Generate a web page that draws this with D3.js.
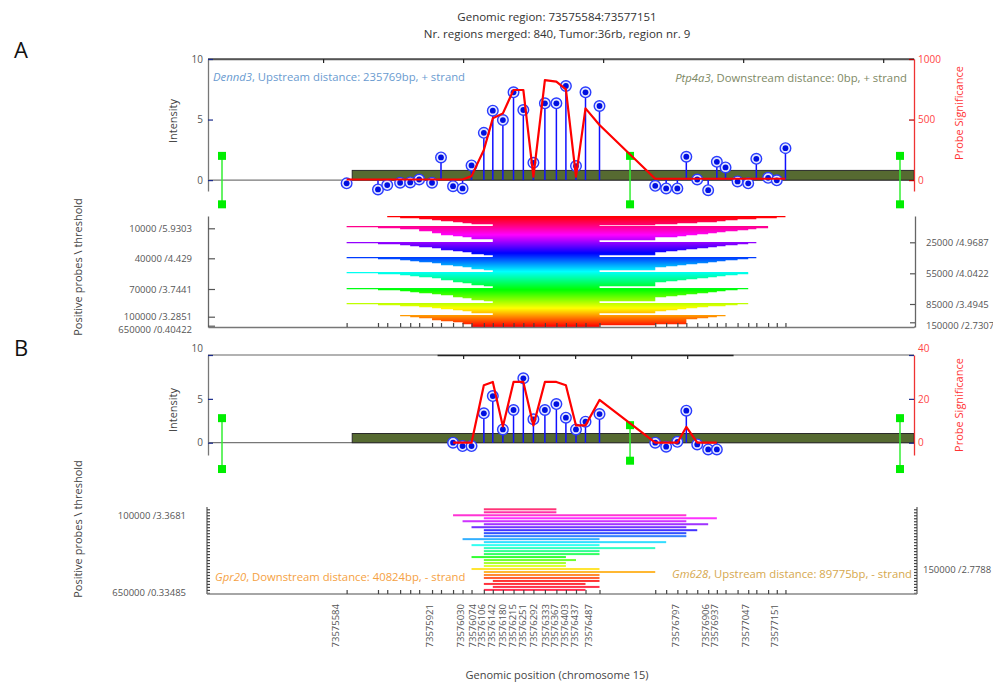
<!DOCTYPE html>
<html><head><meta charset="utf-8">
<script src="https://cdn.jsdelivr.net/npm/d3@7"></script>
<style>
body{margin:0;background:#fff;}
svg{font-family:"Open Sans","Noto Sans",sans-serif;}
</style></head><body>
<svg id="chart" width="993" height="682"></svg>
<script>
// ---------------- DATA ----------------
const titleLines = ["Genomic region: 73575584:73577151", "Nr. regions merged: 840, Tumor:36rb, region nr. 9"];
const probePositions = [73575584,73575696,73575729,73575775,73575811,73575843,73575889,73575921,73575964,73575998,
  73576030,73576074,73576106,73576142,73576180,73576215,73576251,73576292,73576333,73576367,
  73576403,73576437,73576487,73576686,73576725,73576765,73576797,73576836,73576875,73576906,
  73576937,73576980,73577018,73577047,73577089,73577120,73577151];
const intensityA = [-0.27,-0.77,-0.41,-0.22,-0.19,0.05,-0.22,1.87,-0.5,-0.69,
  1.21,3.9,5.73,4.96,7.25,5.79,1.43,6.34,6.34,7.77,
  1.16,7.25,6.12,-0.47,-0.69,-0.69,1.93,0.05,-0.83,1.51,
  1.05,-0.11,-0.27,1.76,0.19,-0.02,2.64];
const significanceA = [5,5,5,5,5,5,5,5,5,5,
  33,248,510,551,744,744,28,826,813,750,
  28,592,455,11,11,11,11,11,11,11,
  11,11,11,11,11,11,11];
const probeIndexB = [8,9,10,11,12,13,14,15,16,17,18,19,20,21,22,23,24,25,26,27,28,29];
const intensityB = [0.0,-0.38,-0.38,3.35,5.32,1.52,3.73,7.34,2.67,3.73,4.41,2.85,1.52,2.4,3.27,0.0,-0.45,0.1,3.65,-0.19,-0.76,-0.76];
const significanceB = [0,0,0,26.2,27.7,7.4,27.7,27.7,7.9,27.7,27.7,26.2,7.9,7.9,19.5,0,0,0,7.2,0,0,0];
const xTickLabels = [73575584,73575921,73576030,73576074,73576106,73576142,73576180,73576215,73576251,73576292,
  73576333,73576367,73576403,73576437,73576487,73576797,73576906,73576937,73577047,73577151];
const topTicksA = [73575500,73576000,73576500,73577000,73577500];
const topTicksB = [73576000,73576200,73576400,73576600,73576800];
const topDarkRangeB = [73575907,73576964];
const markerPos = [73575139,73576596,73577560];
const markerRangeA = [[-2,2],[-2,2],[-2,2]];
const markerRangeB = [[-3,2.8],[-2.05,2],[-3,2.8]];
const geneBar = [73575604,73577610];
const geneBarTopA = 0.8, geneBarTopB = 1.05;
const annotA = [{gene:"Dennd3", rest:", Upstream distance: 235769bp, + strand"},{gene:"Ptp4a3", rest:", Downstream distance: 0bp, + strand"}];
const annotB = [{gene:"Gpr20", rest:", Downstream distance: 40824bp, - strand"},{gene:"Gm628", rest:", Upstream distance: 89775bp, - strand"}];
// rainbow rows of panel A: [first probe index, last probe index]
const rainbowA = [
 [2,36],[3,35],[5,33],[6,31],[7,30],[8,29],[9,27],[10,25],[12,23],[12,22],
 [0,34],[1,34],[3,33],[5,32],[5,31],[6,30],[6,29],[7,28],[7,27],[8,26],[9,25],[10,23],[10,23],[12,23],[12,22],[12,22],
 [0,33],[1,32],[3,31],[4,30],[5,29],[6,28],[7,27],[7,26],[8,25],[9,24],[10,23],[10,23],[11,23],[12,22],[12,22],
 [0,33],[1,32],[3,31],[4,30],[5,29],[6,28],[7,27],[7,26],[8,25],[9,24],[10,23],[10,23],[11,23],[12,22],[12,22],
 [0,32],[1,32],[3,31],[4,30],[5,29],[6,28],[7,27],[7,26],[8,25],[8,24],[9,23],[10,23],[10,23],[11,23],[12,22],[12,22],
 [0,32],[1,31],[3,30],[4,29],[5,28],[6,27],[7,26],[8,25],[8,24],[9,23],[10,23],[10,23],[11,23],[12,22],[12,22],
 [0,32],[1,31],[3,30],[5,28],[6,27],[7,26],[8,25],[9,24],[10,23],[10,23],[12,22],[12,22],
 [3,30],[4,29],[5,28],[6,27],[6,26],[7,26],[8,26],[9,26],[9,26],[10,23],[10,22],[10,22]
];
const rainbowALeftRows = [12.3,42.3,73,100.7,109.7];
const rainbowALeftLabels = ["10000 /5.9303","40000 /4.429","70000 /3.7441","100000 /3.2851","650000 /0.40422"];
const rainbowARightRows = [26.3,57.3,88,106.3];
const rainbowARightLabels = ["25000 /4.9687","55000 /4.0422","85000 /3.4945","150000 /2.7307"];
// lines of panel B lower: [first probe index, last probe index], rows 1..28
const linesB = [[11,18],[11,18],[8,26],[11,29],[9,26],[11,28],[10,26],[11,27],[11,26],[11,26],
  [9,22],[11,24],[10,22],[11,23],[11,22],[11,22],[10,19],[11,20],[11,19],[11,19],
  [10,22],[11,23],[11,22],[11,22],[12,22],[11,21],[12,22],[11,21]];
const linesBLeftRows = [3,29];
const linesBLeftLabels = ["100000 /3.3681","650000 /0.33485"];
const linesBRightRows = [21];
const linesBRightLabels = ["150000 /2.7788"];

// ---------------- DRAW ----------------
const svg = d3.select("#chart");
const x = d3.scaleLinear().domain([73575089,73577610]).range([208,914]);
const tickGray = "#555";
const fmt = d3.format("d");

svg.append("text").attr("x",557).attr("y",21).attr("text-anchor","middle").attr("font-size",11.5).attr("fill","#333").text(titleLines[0]);
svg.append("text").attr("x",557).attr("y",38).attr("text-anchor","middle").attr("font-size",11.5).attr("fill","#333").text(titleLines[1]);
svg.append("text").attr("x",14).attr("y",58).attr("font-size",22).attr("fill","#111").text("A");
svg.append("text").attr("x",14).attr("y",356).attr("font-size",22).attr("fill","#111").text("B");

function vLabel(cx, cy, txt, color){
  svg.append("text").attr("transform",`translate(${cx},${cy}) rotate(-90)`).attr("text-anchor","middle")
    .attr("font-size",11).attr("fill",color).text(txt);
}

function styleAxis(g, domainColor, tickColor, labelColor, fs){
  g.select(".domain").attr("stroke",domainColor).attr("stroke-width",1.3);
  g.selectAll(".tick line").attr("stroke",tickColor).attr("stroke-width",1.2);
  g.selectAll(".tick text").attr("fill",labelColor).attr("font-size",fs).attr("font-family",'"Open Sans","Noto Sans",sans-serif');
}

function topPanel(o){
  const g = svg.append("g");
  const y = d3.scaleLinear().domain(o.yDomain).range([o.bottom,o.top]);
  const s = d3.scaleLinear().domain(o.sDomain).range([o.bottom,o.top]);
  g.append("line").attr("x1",208).attr("x2",914).attr("y1",o.top).attr("y2",o.top).attr("stroke",o.topColor).attr("stroke-width",1.5);
  if(o.darkRange){
    const xs = x.copy().domain(o.darkRange).range([x(o.darkRange[0]),x(o.darkRange[1])]);
    const ta = g.append("g").attr("transform",`translate(0,${o.top})`)
      .call(d3.axisTop(xs).tickValues(o.topTicks).tickSizeInner(-4).tickSizeOuter(0).tickFormat(""));
    styleAxis(ta,"#222","#222",tickGray,10);
  } else {
    const ta = g.append("g").attr("transform",`translate(0,${o.top})`)
      .call(d3.axisTop(x).tickValues(o.topTicks).tickSizeInner(-4).tickSizeOuter(0).tickFormat(""));
    styleAxis(ta,"#555","#222",tickGray,10);
  }
  g.append("line").attr("x1",208).attr("x2",914).attr("y1",y(0)).attr("y2",y(0)).attr("stroke","#777").attr("stroke-width",1.3);
  g.append("rect").attr("x",x(geneBar[0])).attr("width",x(geneBar[1])-x(geneBar[0]))
    .attr("y",y(o.barTop)).attr("height",y(0)-y(o.barTop)).attr("fill","#566a31").attr("stroke","#2a2a2a").attr("stroke-width",1);
  markerPos.forEach((p,i)=>{
    const r = o.markers[i];
    g.append("line").attr("x1",x(p)).attr("x2",x(p)).attr("y1",y(r[0])).attr("y2",y(r[1])).attr("stroke","#33ee33").attr("stroke-width",1.5);
    [r[0],r[1]].forEach(v=>g.append("rect").attr("x",x(p)-4).attr("y",y(v)-4).attr("width",8).attr("height",8).attr("fill","#00ee00"));
  });
  const pts = o.idx.map((k,i)=>({pos:probePositions[k], v:o.intens[i], s:o.sig[i]}));
  g.selectAll(".stem").data(pts).enter().append("line")
    .attr("x1",d=>x(d.pos)).attr("x2",d=>x(d.pos)).attr("y1",y(0)).attr("y2",d=>y(d.v))
    .attr("stroke","#1010ff").attr("stroke-width",1.5);
  g.selectAll(".mo").data(pts).enter().append("circle")
    .attr("cx",d=>x(d.pos)).attr("cy",d=>y(d.v)).attr("r",5.3).attr("fill","#e4e8ff").attr("stroke","#2a3cff").attr("stroke-width",1.4);
  g.selectAll(".mi").data(pts).enter().append("circle")
    .attr("cx",d=>x(d.pos)).attr("cy",d=>y(d.v)).attr("r",2.9).attr("fill","#0010e0");
  g.append("path").datum(pts).attr("fill","none").attr("stroke","#ff0000").attr("stroke-width",2.2).attr("stroke-linejoin","round")
    .attr("d",d3.line().x(d=>x(d.pos)).y(d=>s(d.s)));
  const la = g.append("g").attr("transform","translate(208,0)")
    .call(d3.axisLeft(y).tickValues([0,5,10]).tickSizeInner(-5).tickSizeOuter(0).tickPadding(5).tickFormat(fmt));
  styleAxis(la,"#777","#1a2a8a",tickGray,10);
  if(o.topShift) la.selectAll(".tick").filter(d=>d===10).select("text").attr("y",o.topShift);
  const ra = g.append("g").attr("transform","translate(914,0)")
    .call(d3.axisRight(s).tickValues(o.sTicks).tickSizeInner(-5).tickSizeOuter(0).tickPadding(4).tickFormat(fmt));
  styleAxis(ra,"#ee3333",o.sTickColor,"#ff4444",10);
  if(o.topShift) ra.selectAll(".tick").filter(d=>d===o.sTicks[o.sTicks.length-1]).select("text").attr("y",o.topShift);
  const a1 = g.append("text").attr("x",o.annPos[0][0]).attr("y",o.annPos[0][1]).attr("font-size",11.3).attr("fill",o.annColors[0]);
  a1.append("tspan").attr("font-style","italic").text(o.ann[0].gene); a1.append("tspan").text(o.ann[0].rest);
  const a2 = g.append("text").attr("x",o.annPos[1][0]).attr("y",o.annPos[1][1]).attr("font-size",11.3).attr("text-anchor","end").attr("fill",o.annColors[1]);
  a2.append("tspan").attr("font-style","italic").text(o.ann[1].gene); a2.append("tspan").text(o.ann[1].rest);
}

topPanel({top:59,bottom:191,yDomain:[-0.9,10],sDomain:[-90,1000],sTicks:[0,500,1000],sTickColor:"#b00000",
  topColor:"#555",topTicks:topTicksA,barTop:geneBarTopA,markers:markerRangeA,
  idx:probePositions.map((p,i)=>i),intens:intensityA,sig:significanceA,
  ann:annotA,annPos:[[213,81],[907,82]],annColors:["#6a9bd0","#7d8864"]});
topPanel({top:355,bottom:455,yDomain:[-1.4,10],sDomain:[-5.6,40],sTicks:[0,20,40],sTickColor:"#1a2a8a",
  topColor:"#999",topTicks:topTicksB,darkRange:topDarkRangeB,barTop:geneBarTopB,markers:markerRangeB,
  idx:probeIndexB,intens:intensityB,sig:significanceB,topShift:-7,
  ann:annotB,annPos:[[215,581],[912,578]],annColors:["#f5a142","#d6a84e"]});

vLabel(177,121,"Intensity","#444");
vLabel(177,410,"Intensity","#444");
vLabel(963,113,"Probe Significance","#ff3333");
vLabel(963,405,"Probe Significance","#ff3333");
vLabel(82,267,"Positive probes \\ threshold","#444");
vLabel(82,529,"Positive probes \\ threshold","#444");

// -------- rainbow panel A --------
const yRA = d3.scaleLinear().domain([0,rainbowA.length]).range([216,327]);
const hueA = d3.scaleLinear().domain([0,rainbowA.length-1]).range([360,0]);
const gRA = svg.append("g");
gRA.selectAll("rect").data(rainbowA).enter().append("rect")
  .attr("x",d=>x(probePositions[d[0]])).attr("width",d=>x(probePositions[d[1]])-x(probePositions[d[0]]))
  .attr("y",(d,i)=>yRA(i)).attr("height",(d,i)=>yRA(i+1)-yRA(i)+0.25)
  .attr("fill",(d,i)=>d3.hsl(hueA(i),1,0.5).toString());
const raL = gRA.append("g").attr("transform","translate(208,0)")
  .call(d3.axisLeft(yRA).tickValues(rainbowALeftRows).tickSizeInner(-7).tickSizeOuter(0).tickPadding(16)
    .tickFormat((d,i)=>rainbowALeftLabels[i]));
styleAxis(raL,"#666","#555",tickGray,9.5);
raL.selectAll(".tick text").filter((d,i)=>i===rainbowALeftRows.length-1).attr("y",4);
const raR = gRA.append("g").attr("transform","translate(915,0)")
  .call(d3.axisRight(yRA).tickValues(rainbowARightRows).tickSizeInner(-5).tickSizeOuter(0).tickPadding(11)
    .tickFormat((d,i)=>rainbowARightLabels[i]));
styleAxis(raR,"#666","#555",tickGray,9.5);
raR.selectAll(".tick text").filter((d,i)=>i===rainbowARightRows.length-1).attr("y",3.5);
const raB = gRA.append("g").attr("transform","translate(0,327)")
  .call(d3.axisBottom(x).tickValues(probePositions).tickSizeInner(-4).tickSizeOuter(0).tickFormat(""));
styleAxis(raB,"#777","#444",tickGray,9.5);
gRA.append("line").attr("x1",914).attr("x2",915).attr("y1",327).attr("y2",327).attr("stroke","#777").attr("stroke-width",1.3);

// -------- lines panel B lower --------
const yLB = d3.scaleLinear().domain([1,29]).range([509.3,592.9]);
const hueB = d3.scaleLinear().domain([1,12,17,21,25,28]).range([340,190,120,52,0,-10]);
const gLB = svg.append("g");
gLB.selectAll("rect").data(linesB).enter().append("rect")
  .attr("x",d=>x(probePositions[d[0]])).attr("width",d=>x(probePositions[d[1]])-x(probePositions[d[0]]))
  .attr("y",(d,i)=>yLB(i+1)-1).attr("height",2)
  .attr("fill",(d,i)=>d3.hsl((hueB(i+1)+360)%360,1,0.6).toString());
const rowTicks = d3.range(1,30);
const lbL = gLB.append("g").attr("transform","translate(207,0)")
  .call(d3.axisLeft(yLB).tickValues(rowTicks).tickSizeInner(-3).tickSizeOuter(0).tickPadding(21)
    .tickFormat(d=>{const k=linesBLeftRows.indexOf(d); return k>=0?linesBLeftLabels[k]:"";}));
styleAxis(lbL,"#666","#444",tickGray,9.5);
lbL.select(".domain").attr("d","M0,507V594");
const lbR = gLB.append("g").attr("transform","translate(917,0)")
  .call(d3.axisRight(yLB).tickValues(rowTicks).tickSizeInner(-3).tickSizeOuter(0).tickPadding(6)
    .tickFormat(d=>{const k=linesBRightRows.indexOf(d); return k>=0?linesBRightLabels[k]:"";}));
styleAxis(lbR,"#666","#444",tickGray,9.5);
lbR.select(".domain").attr("d","M0,507V594");
const lbB = gLB.append("g").attr("transform","translate(0,594)")
  .call(d3.axisBottom(x).tickValues(probePositions).tickSizeInner(-4).tickSizeOuter(0).tickFormat(""));
styleAxis(lbB,"#888","#444",tickGray,9.5);
lbB.select(".domain").attr("d","M207,0H917");
gLB.selectAll(".xl").data(xTickLabels).enter().append("text")
  .attr("transform",d=>`translate(${x(d)-11},604) rotate(-90)`)
  .attr("text-anchor","end").attr("dy","0.35em").attr("font-size",9.5).attr("fill",tickGray).text(d=>d);
svg.append("text").attr("x",557).attr("y",679).attr("text-anchor","middle").attr("font-size",11).attr("fill","#444")
  .text("Genomic position (chromosome 15)");
</script>
</body></html>
